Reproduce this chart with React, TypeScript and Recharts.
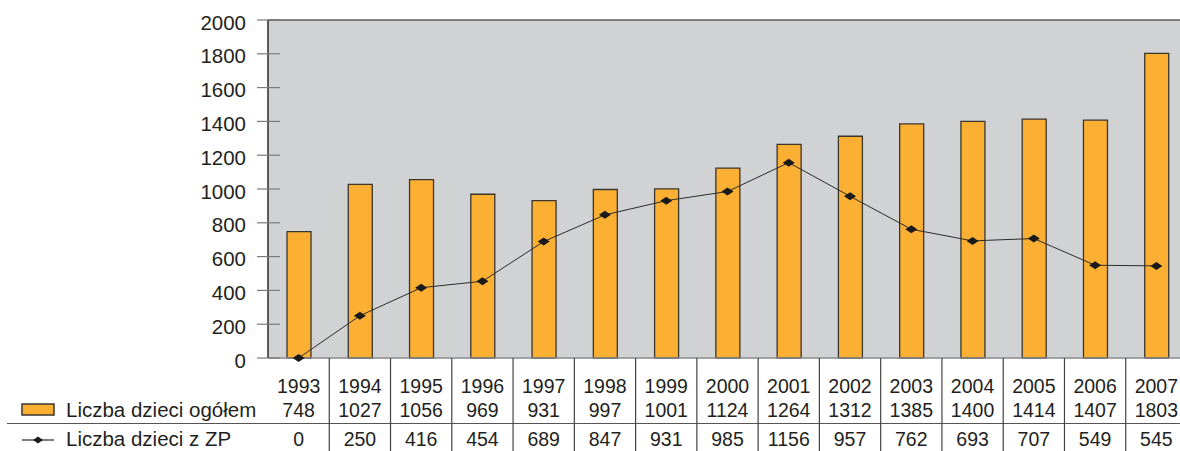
import React from 'react';
import {
  ComposedChart,
  Bar,
  Line,
  XAxis,
  YAxis,
  CartesianGrid,
  ReferenceLine,
} from 'recharts';

// Annual figures, 1993–2007
const years = ['1993', '1994', '1995', '1996', '1997', '1998', '1999', '2000', '2001', '2002', '2003', '2004', '2005', '2006', '2007'];
const dzieciOgolem = [748, 1027, 1056, 969, 931, 997, 1001, 1124, 1264, 1312, 1385, 1400, 1414, 1407, 1803];
const dzieciZP = [0, 250, 416, 454, 689, 847, 931, 985, 1156, 957, 762, 693, 707, 549, 545];
const yTicks = [0, 200, 400, 600, 800, 1000, 1200, 1400, 1600, 1800, 2000];

const seriesNames = ['Liczba dzieci ogółem', 'Liczba dzieci z ZP'];

const data = years.map((year, i) => ({
  year,
  ogolem: dzieciOgolem[i],
  zp: dzieciZP[i],
}));

// Layout
const CHART_W = 1200;
const CHART_H = 451;
const Y_AXIS_W = 268;
const MARGIN = { top: 20, right: 13, bottom: 0, left: 0 };
const X_AXIS_H = 93;
const PLOT_W = CHART_W - Y_AXIS_W - MARGIN.right - MARGIN.left;
const STEP = PLOT_W / years.length;

const FONT = '"Liberation Sans", Arial, Helvetica, sans-serif';
const TEXT = '#231f20';
const ORANGE = '#fbb034';
const BAR_STROKE = '#3b3530';
const PLOT_BG = '#d1d2d4';
const LINE_COLOR = '#2b2b2b';
const LABEL_SIZE = 20.5;
const CELL_SIZE = 19.5;

// Table row baselines, measured from the top of the x axis
const ROW_YEAR = 35;
const ROW_TOTAL = 59;
const ROW_ZP = 88;
const ROW_RULE = 65.5;

const Diamond = ({ cx, cy, w = 6, h = 4, fill = '#1a1a1a' }: any) => {
  if (cx == null || cy == null) return null;
  return (
    <polygon
      points={`${cx - w},${cy} ${cx},${cy - h} ${cx + w},${cy} ${cx},${cy + h}`}
      fill={fill}
    />
  );
};

const YTick = (props: any) => {
  const { x, y, payload } = props;
  return (
    <g>
      <line x1={x - 11} y1={y} x2={x + 12} y2={y} stroke="#7a7a7a" strokeWidth={1.2} />
      <text x={x - 22} y={y + 9.5} textAnchor="end" fontSize={LABEL_SIZE} fill={TEXT} fontFamily={FONT}>
        {payload.value}
      </text>
    </g>
  );
};

// Data table under the plot: year, total count and ZP count per column
const TableTick = (props: any) => {
  const { x, y, payload, index } = props;
  const i = typeof index === 'number' ? index : years.indexOf(String(payload.value));
  const left = x - STEP / 2;
  return (
    <g>
      {i > 0 && (
        <line x1={left} y1={y} x2={left} y2={CHART_H + 2} stroke="#444" strokeWidth={1.2} />
      )}
      {i === 0 && (
        <g>
          <line x1={7} y1={y + ROW_RULE} x2={CHART_W} y2={y + ROW_RULE} stroke="#555" strokeWidth={1.2} />
          <rect x={22} y={y + 46} width={32} height={11} fill={ORANGE} stroke={BAR_STROKE} strokeWidth={1.5} />
          <text x={66} y={y + ROW_TOTAL} fontSize={LABEL_SIZE} fill={TEXT} fontFamily={FONT}>
            {seriesNames[0]}
          </text>
          <line x1={22} y1={y + ROW_ZP - 6} x2={54} y2={y + ROW_ZP - 6} stroke={LINE_COLOR} strokeWidth={1.2} />
          <Diamond cx={38} cy={y + ROW_ZP - 6} w={5} h={3.5} />
          <text x={66} y={y + ROW_ZP} fontSize={LABEL_SIZE} fill={TEXT} fontFamily={FONT}>
            {seriesNames[1]}
          </text>
        </g>
      )}
      <text x={x} y={y + ROW_YEAR} textAnchor="middle" fontSize={CELL_SIZE} fill={TEXT} fontFamily={FONT}>
        {payload.value}
      </text>
      <text x={x} y={y + ROW_TOTAL} textAnchor="middle" fontSize={CELL_SIZE} fill={TEXT} fontFamily={FONT}>
        {dzieciOgolem[i]}
      </text>
      <text x={x} y={y + ROW_ZP} textAnchor="middle" fontSize={CELL_SIZE} fill={TEXT} fontFamily={FONT}>
        {dzieciZP[i]}
      </text>
    </g>
  );
};

export default function App() {
  return (
    <div
      style={{
        position: 'absolute',
        left: 0,
        top: 0,
        width: 1180,
        height: CHART_H,
        overflow: 'hidden',
        background: '#fff',
      }}
    >
      <ComposedChart
        width={CHART_W}
        height={CHART_H}
        data={data}
        margin={MARGIN}
        style={{ fontFamily: FONT }}
      >
        <CartesianGrid fill={PLOT_BG} stroke="none" horizontal={false} vertical={false} />
        <XAxis
          dataKey="year"
          height={X_AXIS_H}
          tickLine={false}
          tickSize={0}
          tickMargin={0}
          axisLine={{ stroke: '#8a8a8a', strokeWidth: 1.5 }}
          tick={<TableTick />}
          interval={0}
        />
        <YAxis
          width={Y_AXIS_W}
          domain={[0, 2000]}
          ticks={yTicks}
          tickLine={false}
          tickSize={0}
          tickMargin={0}
          axisLine={{ stroke: '#2a2a2a', strokeWidth: 1.5 }}
          tick={<YTick />}
          interval={0}
        />
        <ReferenceLine y={2000} stroke="#5a5a5a" strokeWidth={1.5} ifOverflow="extendDomain" />
        <Bar
          dataKey="ogolem"
          name={seriesNames[0]}
          fill={ORANGE}
          stroke={BAR_STROKE}
          strokeWidth={1.3}
          barSize={24}
          isAnimationActive={false}
        />
        <Line
          dataKey="zp"
          name={seriesNames[1]}
          type="linear"
          stroke={LINE_COLOR}
          strokeWidth={1}
          dot={(p: any) => <Diamond key={`d-${p.index}`} cx={p.cx} cy={p.cy} />}
          activeDot={false}
          isAnimationActive={false}
        />
      </ComposedChart>
    </div>
  );
}
